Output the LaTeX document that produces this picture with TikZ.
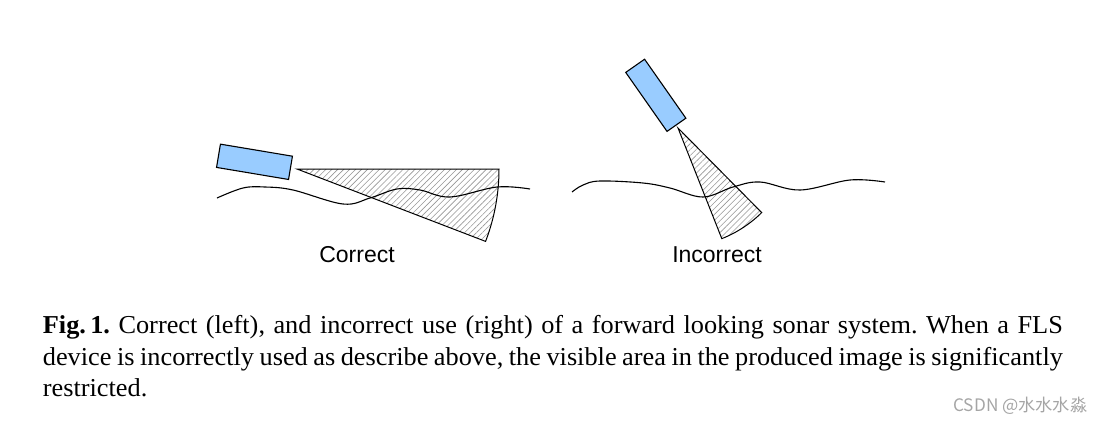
\documentclass[tikz,border=0pt]{standalone}
\usepackage{fontspec}
\setmainfont{Liberation Serif}
\newfontfamily\capfont[FakeStretch=1.02]{Liberation Serif}
\newfontfamily\labelfont{Liberation Sans}
\newfontfamily\cjkfont{Noto Sans CJK SC}
\usetikzlibrary{patterns.meta}
\definecolor{sonarblue}{RGB}{153,204,255}
\definecolor{hatchgray}{RGB}{150,150,150}
\definecolor{wmgray}{RGB}{165,165,165}
\frenchspacing
\tikzset{
  device/.style={draw=black, line width=0.55pt, fill=sonarblue, inner sep=0pt, minimum width=36.5pt, minimum height=11.8pt},
  beam/.style={draw=black, line width=0.5pt, pattern={Lines[angle=45, distance=2.1pt, line width=0.3pt]}, pattern color=hatchgray},
  seabed/.style={draw=black, line width=0.55pt},
  caselabel/.style={font=\labelfont\fontsize{11.5}{13}\selectfont, inner sep=0pt},
  captionline/.style={font=\capfont\fontsize{12.9}{15}\selectfont, inner sep=0pt, anchor=base west},
  watermark/.style={font=\cjkfont\fontsize{8.6}{10}\selectfont, text=wmgray, inner sep=0pt, anchor=base west}
}
\begin{document}
\begin{tikzpicture}[x=0.5pt, y=-0.5pt]
\useasboundingbox (0,0) rectangle (1104,424);
% left (correct)
\draw[beam] (297,169) -- (499,169) arc[start angle=0, end angle=21, radius=202] -- cycle;
\draw[seabed] plot[smooth, tension=0.6] coordinates {(217,198) (243,188) (265,187) (293,190) (343,204) (370,198) (397,189) (420,190) (450,197) (497,187) (530,189)};
\node[device, rotate=-9.5] (devL) at (254.5,161.8) {};
\node[caselabel] (lblL) at (357,255) {Correct};
% right (incorrect)
\draw[beam] (678,128) -- ++(45.3:119) arc[start angle=45.3, end angle=68.4, radius=119] -- cycle;
\draw[seabed] plot[smooth, tension=0.6] coordinates {(572,192) (583,185) (600,181) (643,183) (670,188) (703,197) (733,187) (760,182) (800,190) (850,180) (885,182)};
\node[device, rotate=-55, minimum width=36pt, minimum height=11.5pt] (devR) at (655.8,95.3) {};
\node[caselabel] (lblR) at (717,255) {Incorrect};
% caption
\node[captionline] (cap1) at (42.5,333.7) {\hbox to 510pt{\textbf{Fig.\,1.} Correct (left), and incorrect use (right) of a forward looking sonar system. When a FLS}};
\node[captionline] (cap2) at (42.5,365.2) {\hbox to 510pt{device is incorrectly used as describe above, the visible area in the produced image is significantly}};
\node[captionline] (cap3) at (42.5,396.5) {restricted.};
\node[watermark] (wm) at (953,411) {CSDN @水水水淼};
\end{tikzpicture}
\end{document}
